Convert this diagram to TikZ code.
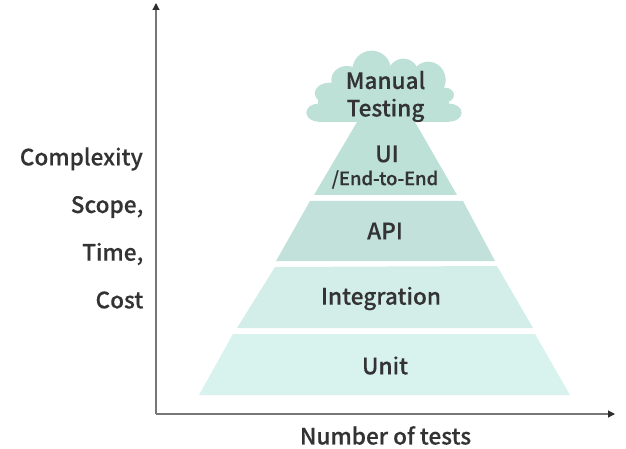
\documentclass[tikz,border=0pt]{standalone}
\usepackage{fontspec}
\setmainfont{Noto Sans CJK KR Medium}[FakeBold=0.25]
\usetikzlibrary{arrows.meta}
\definecolor{cA}{HTML}{D8F2ED}
\definecolor{cB}{HTML}{D3EEE8}
\definecolor{cC}{HTML}{C1E1DA}
\definecolor{cD}{HTML}{BDE0D7}
\definecolor{ink}{HTML}{333333}
\definecolor{axisc}{HTML}{777777}
\tikzset{x=1pt,y=-1pt,
 lab/.style={text=ink,font=\fontsize{22.6}{27.5}\selectfont,inner sep=0pt,align=center},
 axisline/.style={draw=axisc,line width=1.2pt,-{Triangle[length=7pt,width=7pt,color=ink!90!black]}}}
\newcommand{\lobe}[4]{\fill[cD] (290+#1/3,40+#2/3) ellipse [x radius=#3/3,y radius=#4/3];}
\begin{document}
\begin{tikzpicture}
\useasboundingbox (0,0) rectangle (626,449);
\fill[cA] (199,395) -- (570,395) -- (535,334) -- (233,334) -- cycle;
\fill[cB] (237,328) -- (533,328) -- (497,266) -- (275,267) -- cycle;
\fill[cC] (276,261) -- (495,261) -- (463,201) -- (310,201) -- cycle;
\fill[cD] (314,195) -- (457,195) -- (415,122) -- (357,122) -- cycle;
\lobe{85}{218}{36}{27}
\lobe{120}{160}{46}{32}
\lobe{170}{120}{46}{42}
\lobe{245}{90}{58}{58}
\lobe{340}{100}{45}{44}
\lobe{415}{120}{52}{55}
\lobe{465}{165}{27}{22}
\lobe{478}{218}{37}{27}
\fill[cD] (290+85/3,40+175/3) rectangle (290+478/3,40+245/3);
\fill[cD] (290+130/3,40+100/3) rectangle (290+440/3,40+245/3);
\coordinate (o) at (156,414);
\coordinate (ytip) at (156,3);
\coordinate (xtip) at (615,414);
\draw[axisline] (o) -- (ytip);
\draw[axisline] (o) -- (xtip);
\node[lab] (manual) at (385.5,96.5) {Manual\\Testing};
\node[lab] (ui) at (387,154) {UI};
\node[lab,font=\fontsize{18.4}{21}\selectfont] (e2e) at (385,179.5) {/End-to-End};
\node[lab] (api) at (385,231) {API};
\node[lab] (integ) at (381,298.5) {Integration};
\node[lab] (unit) at (385,365.5) {Unit};
\node[lab,anchor=east] (c1) at (143,159) {Complexity};
\node[lab,anchor=east] (c2) at (143.5,207) {Scope,};
\node[lab,anchor=east] (c3) at (143.5,254) {Time,};
\node[lab,anchor=east] (c4) at (143.5,300) {Cost};
\node[lab] (xl) at (385.5,435.5) {Number of tests};
\end{tikzpicture}
\end{document}
